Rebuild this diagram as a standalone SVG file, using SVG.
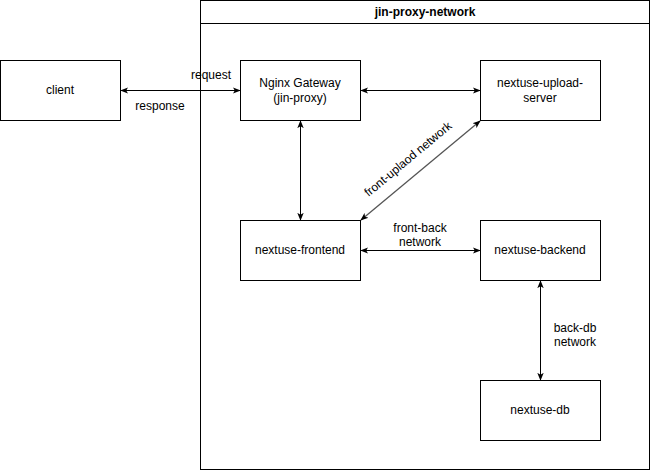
<svg xmlns="http://www.w3.org/2000/svg" width="651" height="471" viewBox="0 0 651 471">
<style>
.box{fill:#fff;stroke:#000;stroke-width:1}
.t{font-family:"Liberation Sans",Arial,sans-serif;font-size:12px;fill:#000;text-anchor:middle;dominant-baseline:central}
.b{font-weight:bold}
.c{fill:none;stroke:#000;stroke-width:1}
.g{stroke:#555;stroke-width:1.3}
</style>
<defs>
<marker id="a" viewBox="0 0 10 10" refX="9" refY="5" markerWidth="8" markerHeight="8" orient="auto-start-reverse" markerUnits="userSpaceOnUse">
<path d="M0,1 L10,5 L0,9 L2.5,5 Z" fill="#000"/>
</marker>
</defs>
<rect width="651" height="471" fill="#fff"/>
<g id="jin-proxy-network">
<rect class="box" x="200.5" y="0.5" width="449" height="469"/>
<line class="c" x1="200.5" y1="23.5" x2="649.5" y2="23.5"/>
<text class="t b" x="425" y="12">jin-proxy-network</text>
</g>
<g id="client">
<rect class="box" x="0.5" y="60.5" width="120" height="60"/>
<text class="t" x="60" y="90">client</text>
</g>
<g id="nginx">
<rect class="box" x="240.5" y="60.5" width="120" height="60"/>
<text class="t" x="300" y="83">Nginx Gateway</text>
<text class="t" x="300" y="98">(jin-proxy)</text>
</g>
<g id="upload">
<rect class="box" x="480.5" y="60.5" width="120" height="60"/>
<text class="t" x="540" y="83">nextuse-upload-</text>
<text class="t" x="540" y="98">server</text>
</g>
<g id="frontend">
<rect class="box" x="240.5" y="220.5" width="120" height="60"/>
<text class="t" x="300" y="250">nextuse-frontend</text>
</g>
<g id="backend">
<rect class="box" x="480.5" y="220.5" width="120" height="60"/>
<text class="t" x="540" y="250">nextuse-backend</text>
</g>
<g id="db">
<rect class="box" x="480.5" y="380.5" width="120" height="60"/>
<text class="t" x="540" y="410">nextuse-db</text>
</g>
<g id="connectors">
<line class="c" x1="121" y1="90.5" x2="240" y2="90.5" marker-start="url(#a)" marker-end="url(#a)"/>
<text class="t" x="211" y="75">request</text>
<text class="t" x="160" y="106">response</text>
<line class="c" x1="361" y1="90.5" x2="480" y2="90.5" marker-start="url(#a)" marker-end="url(#a)"/>
<line class="c" x1="300.5" y1="121" x2="300.5" y2="220" marker-start="url(#a)" marker-end="url(#a)"/>
<line class="c g" x1="361" y1="220" x2="480" y2="121" marker-start="url(#a)" marker-end="url(#a)"/>
<text class="t" x="408" y="159" transform="rotate(-39.8 408 159)">front-uplaod network</text>
<line class="c" x1="361" y1="250.5" x2="480" y2="250.5" marker-start="url(#a)" marker-end="url(#a)"/>
<text class="t" x="420" y="228">front-back</text>
<text class="t" x="420" y="242">network</text>
<line class="c" x1="540.5" y1="281" x2="540.5" y2="380" marker-start="url(#a)" marker-end="url(#a)"/>
<text class="t" x="575" y="328">back-db</text>
<text class="t" x="575" y="342">network</text>
</g>
</svg>
